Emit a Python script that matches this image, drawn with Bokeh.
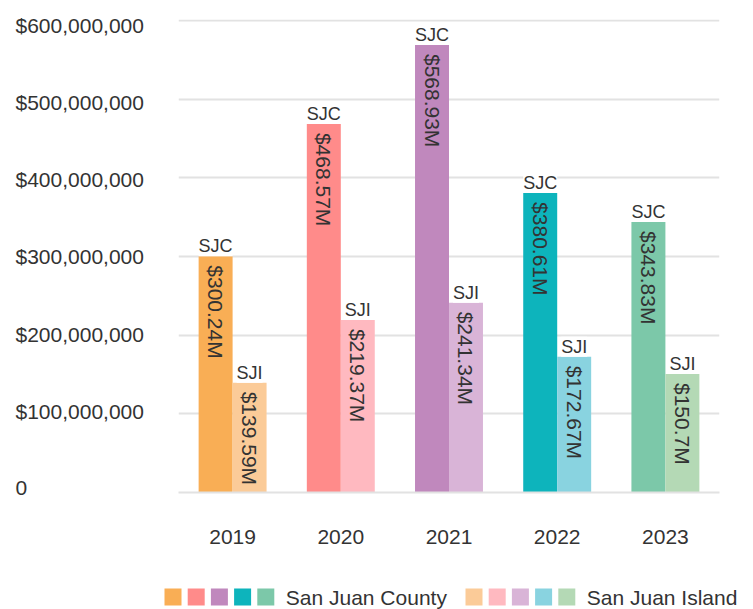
import math
from bokeh.plotting import figure
from bokeh.models import FactorRange, Range1d, FixedTicker, ColumnDataSource
from bokeh.transform import dodge
from bokeh.layouts import column, row
from bokeh.core.properties import value
from bokeh.embed import file_html
from bokeh.resources import INLINE

# ---------------- data ----------------
years = ["2019", "2020", "2021", "2022", "2023"]
county_values = [300240000, 468570000, 568930000, 380610000, 343830000]
island_values = [139590000, 219370000, 241340000, 172670000, 150700000]
county_labels = ["$300.24M", "$468.57M", "$568.93M", "$380.61M", "$343.83M"]
island_labels = ["$139.59M", "$219.37M", "$241.34M", "$172.67M", "$150.7M"]
county_short = ["SJC"] * 5
island_short = ["SJI"] * 5
county_colors = ["#F9AE55", "#FF8B8A", "#C088BD", "#0DB4BC", "#7CC8A9"]
island_colors = ["#FBCB98", "#FFB9C0", "#D9B4D7", "#89D3E0", "#B4D9B5"]
series_names = ["San Juan County", "San Juan Island"]
tick_values = [0, 100000000, 200000000, 300000000, 400000000, 500000000, 600000000]
tick_labels = ["0", "$100,000,000", "$200,000,000", "$300,000,000",
               "$400,000,000", "$500,000,000", "$600,000,000"]

FONT = "Liberation Sans"
TXT = "#333333"
GRID = "#e2e2e2"

src = ColumnDataSource(dict(
    year=years, county=county_values, island=island_values,
    cl=county_labels, il=island_labels, cs=county_short, isl=island_short,
    cc=county_colors, ic=island_colors,
))

TOP, BOT = 19, 83
MAIN_H = 575

# ---------------- main plot ----------------
p = figure(
    x_range=FactorRange(*years, range_padding=0),
    y_range=Range1d(0, 601300000),
    width=575, height=MAIN_H, y_axis_location=None,
    output_backend="svg", toolbar_location=None,
    min_border_left=0, min_border_right=34, min_border_top=TOP, min_border_bottom=BOT,
)
p.frame_align = False
p.outline_line_color = None
p.background_fill_color = "white"

BW = 0.314
OFF = BW / 2

p.vbar(x=dodge("year", -OFF, range=p.x_range), top="county", width=BW,
       fill_color="cc", line_color=None, source=src)
p.vbar(x=dodge("year", OFF, range=p.x_range), top="island", width=BW,
       fill_color="ic", line_color=None, source=src)

for off, ycol, scol, vcol in [(-OFF, "county", "cs", "cl"), (OFF, "island", "isl", "il")]:
    p.text(x=dodge("year", off, range=p.x_range), y=ycol, text=scol,
           text_align="center", text_baseline="bottom",
           text_font=value(FONT), text_font_size="18px", text_color=TXT,
           background_fill_color="white", source=src)
    p.text(x=dodge("year", off, range=p.x_range), y=ycol, text=vcol,
           angle=-math.pi / 2, text_align="left", text_baseline="middle",
           y_offset=9,
           text_font=value(FONT), text_font_size="21px", text_color=TXT, source=src)

p.ygrid.ticker = FixedTicker(ticks=tick_values)
p.ygrid.grid_line_color = GRID
p.ygrid.grid_line_width = 2
p.xgrid.grid_line_color = None

p.xaxis.axis_line_color = GRID
p.xaxis.axis_line_width = 2
p.xaxis.major_tick_line_color = None
p.xaxis.minor_tick_line_color = None
p.xaxis.major_label_text_font = FONT
p.xaxis.major_label_text_font_size = "21px"
p.xaxis.major_label_text_color = TXT
p.xaxis.major_label_standoff = 31

# ---------------- y tick labels (left aligned) ----------------
lf = figure(width=178, height=MAIN_H, x_range=Range1d(0, 178),
            y_range=Range1d(-112670000, 631980000),
            x_axis_location=None, y_axis_location=None,
            output_backend="svg", toolbar_location=None, min_border=0)
lf.frame_align = False
lf.grid.visible = False
lf.outline_line_color = None
lf.text(x=[15] * len(tick_values), y=tick_values, text=tick_labels,
        text_align="left", text_baseline="middle",
        text_font=value(FONT), text_font_size="21px", text_color=TXT)

# ---------------- legend ----------------
lg = figure(width=753, height=34, x_range=Range1d(0, 753), y_range=Range1d(34, 0),
            x_axis_location=None, y_axis_location=None,
            output_backend="svg", toolbar_location=None, min_border=0)
lg.frame_align = False
lg.grid.visible = False
lg.outline_line_color = None

PITCH = 23.2
starts = [172.5, 473.5]
for k, cols in enumerate([county_colors, island_colors]):
    xs = [starts[k] + PITCH * i for i in range(len(cols))]
    lg.rect(x=xs, y=[21.5] * len(cols), width=17, height=17, fill_color=cols, line_color=None)
    lg.text(x=[xs[-1] + 20], y=[21.5], text=[series_names[k]], text_align="left",
            text_baseline="middle", text_font=value(FONT), text_font_size="21px",
            text_color=TXT)

layout = column(row(lf, p), lg)
open("out.html", "w").write(file_html(layout, INLINE))
